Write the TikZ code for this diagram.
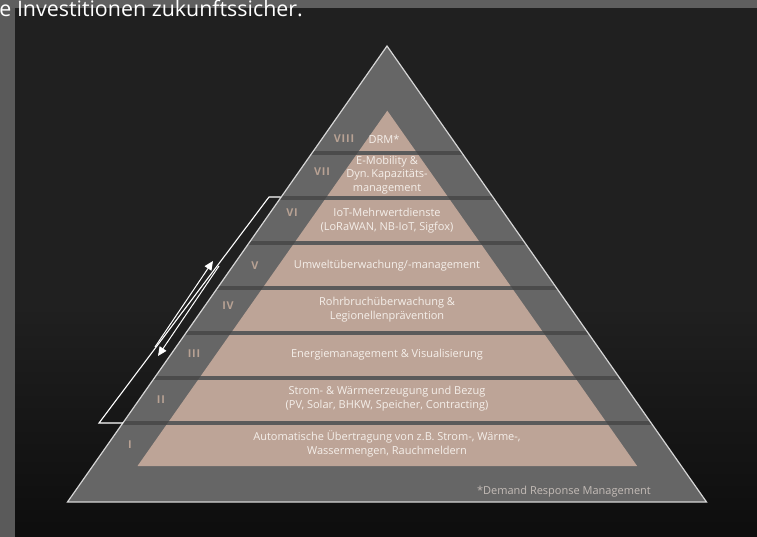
\documentclass[tikz,border=0pt]{standalone}
\usepackage{fontspec}
\setmainfont{Open Sans}
\newfontfamily\romanfont[LetterSpace=8]{Open Sans}
\usetikzlibrary{arrows.meta}
\definecolor{panel}{HTML}{202020}
\definecolor{stripl}{HTML}{5A5A5A}
\definecolor{stript}{HTML}{5F5F5F}
\definecolor{band}{HTML}{666666}
\definecolor{sep}{HTML}{4B4B4B}
\definecolor{sepin}{HTML}{5A5A5A}
\definecolor{layer}{HTML}{BDA497}
\definecolor{numc}{HTML}{B8A294}
\definecolor{ltext}{HTML}{F5EFEA}
\definecolor{foot}{HTML}{C4BCB7}
\definecolor{edge}{HTML}{D6D6D6}
\begin{document}
\begin{tikzpicture}[x=1pt,y=-1pt,
  lt/.style={text=ltext, font=\fontsize{11}{14}\selectfont, align=center, inner sep=0pt},
  num/.style={text=numc, font=\romanfont\bfseries\fontsize{10.8}{12}\selectfont, inner sep=0pt},
  wline/.style={draw=white, line width=1.1pt, line join=miter},
  warrow/.style={draw=white, line width=1pt, -{Triangle[length=9pt,width=8pt]}}]
\useasboundingbox (0,0) rectangle (757,537);
% background
\fill[stripl] (0,0) rectangle (757,537);
\fill[stript] (0,0) rectangle (757,8);
\fill[panel] (15,8) rectangle (757,537);
\foreach \i in {0,...,39}{
  \pgfmathtruncatemacro\p{\i*1.5}
  \fill[black!\p!panel] (15,{300+\i*6}) rectangle (757,{306.5+\i*6});
}
% outer triangle
\coordinate (A) at (387,46);
\coordinate (BL) at (67.5,502);
\coordinate (BR) at (706.5,502);
\coordinate (P) at (387.3,110.7);
\coordinate (IL) at (137.5,466);
\coordinate (IR) at (637.1,466);
\fill[band] (A) -- (BR) -- (BL) -- cycle;
\fill[layer] (P) -- (IR) -- (IL) -- cycle;
\begin{scope}
  \clip (A) -- (BR) -- (BL) -- cycle;
  \foreach \y in {421,376,331,286,241,196,151}
    \fill[sep] (0,\y) rectangle (757,{\y+4});
\end{scope}
\begin{scope}
  \clip (P) -- (IR) -- (IL) -- cycle;
  \foreach \y in {421,376,331,286,241,196,151}
    \fill[sepin] (0,\y) rectangle (757,{\y+4});
\end{scope}
\draw[edge, line width=1.2pt, line join=miter] (A) -- (BR) -- (BL) -- cycle;
% layer texts
\node[lt] (l8) at (384,139) {DRM*};
\node[lt, font=\fontsize{11}{13.3}\selectfont] (l7) at (387,175) {E-Mobility \&\\Dyn.\,Kapazitäts-\\management};
\node[lt] (l6) at (387,220.5) {IoT-Mehrwertdienste\\(LoRaWAN, NB-IoT, Sigfox)};
\node[lt] (l5) at (387,266) {Umweltüberwachung/-management};
\node[lt] (l4) at (387,309.5) {Rohrbruchüberwachung \&\\Legionellenprävention};
\node[lt] (l3) at (387,354.5) {Energiemanagement \& Visualisierung};
\node[lt] (l2) at (387,398.5) {Strom- \& Wärmeerzeugung und Bezug\\(PV, Solar, BHKW, Speicher, Contracting)};
\node[lt] (l1) at (387,444) {Automatische Übertragung von z.B. Strom-, Wärme-,\\Wassermengen, Rauchmeldern};
% numerals
\node[num] (n8) at (344,139) {VIII};
\node[num] (n7) at (322,172) {VII};
\node[num] (n6) at (292,213) {VI};
\node[num] (n5) at (255,266) {V};
\node[num] (n4) at (228,306) {IV};
\node[num] (n3) at (194,354) {III};
\node[num] (n2) at (161,400) {II};
\node[num] (n1) at (130,445) {I};
% footnote
\node[text=foot, font=\fontsize{11}{13}\selectfont, anchor=east, inner sep=0pt] (fn) at (651,492) {*Demand Response Management};
% title
\node[text=white, font=\fontsize{21.4}{24}\selectfont, anchor=base east, inner sep=0pt] (title) at (303,16.5) {e Investitionen zukunftssicher.};
% white outline and arrows
\coordinate (w1) at (123,423);
\coordinate (w2) at (99,423);
\coordinate (w3) at (269,197);
\coordinate (w4) at (280.5,197);
\draw[wline] (w1) -- (w2) -- (w3) -- (w4);
\coordinate (u1) at (155,347);
\coordinate (u2) at (213,261);
\coordinate (d1) at (219,266);
\coordinate (d2) at (158,356);
\draw[warrow] (u1) -- (u2);
\draw[warrow] (d1) -- (d2);
\end{tikzpicture}
\end{document}
